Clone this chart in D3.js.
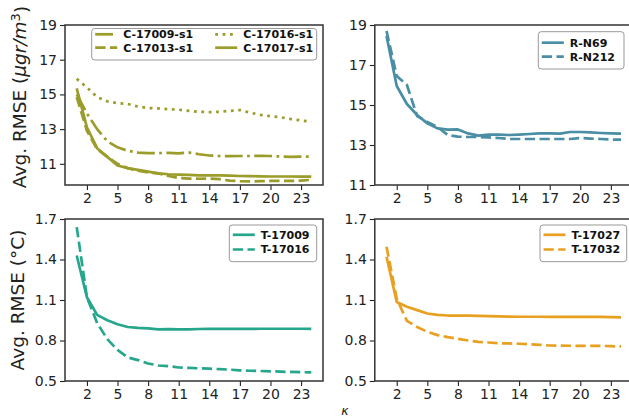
<!DOCTYPE html>
<html>
<head>
<meta charset="utf-8">
<script src="https://cdnjs.cloudflare.com/ajax/libs/d3/7.8.5/d3.min.js"></script>
<style>
  body { margin: 0; background: #fff; }
  svg { display: block; font-family: "DejaVu Sans", sans-serif; }
</style>
</head>
<body>
<div id="chart"></div>
<script>
// ---- data ----
var kappa = d3.range(1, 25);
var xTicks = [2, 5, 8, 11, 14, 17, 20, 23];

var c17009 = [15.0, 13.9, 13.0, 12.3, 11.95, 11.75, 11.65, 11.62, 11.62, 11.63, 11.6, 11.65, 11.55, 11.48, 11.45, 11.44, 11.45, 11.45, 11.46, 11.45, 11.42, 11.4, 11.42, 11.42];
var c17013 = [14.85, 12.9, 11.85, 11.4, 11.0, 10.75, 10.6, 10.5, 10.45, 10.3, 10.18, 10.15, 10.14, 10.15, 10.12, 10.03, 10.0, 9.99, 10.0, 10.02, 10.02, 10.02, 10.03, 10.08];
var c17016 = [15.9, 15.4, 14.85, 14.6, 14.5, 14.45, 14.3, 14.22, 14.19, 14.15, 14.12, 14.05, 14.0, 13.98, 14.0, 14.05, 14.1, 13.95, 13.82, 13.75, 13.68, 13.58, 13.5, 13.42];
var c17017 = [15.35, 13.1, 11.9, 11.4, 10.9, 10.75, 10.65, 10.55, 10.45, 10.4, 10.38, 10.36, 10.34, 10.33, 10.33, 10.32, 10.3, 10.29, 10.28, 10.27, 10.27, 10.27, 10.26, 10.26];

var rN69  = [18.45, 15.95, 15.05, 14.5, 14.08, 13.83, 13.77, 13.78, 13.58, 13.47, 13.52, 13.52, 13.5, 13.52, 13.55, 13.58, 13.58, 13.57, 13.65, 13.65, 13.63, 13.6, 13.58, 13.57];
var rN212 = [18.7, 16.45, 16.0, 14.45, 14.15, 13.9, 13.5, 13.42, 13.4, 13.4, 13.38, 13.35, 13.3, 13.3, 13.3, 13.3, 13.3, 13.3, 13.3, 13.35, 13.32, 13.3, 13.27, 13.27];

var t17009 = [1.43, 1.12, 0.99, 0.95, 0.92, 0.9, 0.893, 0.89, 0.883, 0.884, 0.882, 0.882, 0.885, 0.886, 0.886, 0.886, 0.886, 0.886, 0.887, 0.887, 0.887, 0.887, 0.887, 0.886];
var t17016 = [1.64, 1.12, 0.93, 0.81, 0.73, 0.675, 0.655, 0.63, 0.615, 0.61, 0.6, 0.597, 0.594, 0.591, 0.588, 0.584, 0.579, 0.576, 0.574, 0.572, 0.569, 0.567, 0.565, 0.564];

var t17027 = [1.42, 1.085, 1.05, 1.025, 1.0, 0.99, 0.985, 0.985, 0.984, 0.982, 0.98, 0.978, 0.977, 0.976, 0.976, 0.976, 0.975, 0.975, 0.975, 0.975, 0.976, 0.975, 0.973, 0.972];
var t17032 = [1.495, 1.11, 0.945, 0.9, 0.865, 0.84, 0.825, 0.812, 0.8, 0.79, 0.785, 0.78, 0.778, 0.776, 0.772, 0.768, 0.763, 0.762, 0.761, 0.76, 0.76, 0.76, 0.758, 0.756];

var pmTicks = [11, 13, 15, 17, 19];
var tempTicks = [0.5, 0.8, 1.1, 1.4, 1.7];

// ---- styles ----
var dashes = {
  solid: null,
  dashed: "10.3,4.4",
  dotted: "2.8,4.6",
  dashdot: "17.8,4.4,2.8,4.4"
};

var svg = d3.select("#chart").append("svg")
  .attr("width", 629).attr("height", 418);

var panels = [
  { left: 65, top: 25, width: 258, height: 160, yDomain: [9.78, 19], yTicks: pmTicks, fmt: d3.format("d"),
    color: "#9c9c2a",
    series: [
      { name: "C-17009-s1", values: c17009, dash: "dashdot" },
      { name: "C-17013-s1", values: c17013, dash: "dashed" },
      { name: "C-17016-s1", values: c17016, dash: "dotted" },
      { name: "C-17017-s1", values: c17017, dash: "solid" }
    ],
    legend: { x: 91.7, y: 28.5, w: 225, h: 31.5, cols: 2, colW: 120, rows: [34.3, 47.7] } },
  { left: 374.8, top: 25, width: 258, height: 160, yDomain: [11, 19], yTicks: pmTicks, fmt: d3.format("d"),
    color: "#4a8ea5",
    series: [
      { name: "R-N69", values: rN69, dash: "solid" },
      { name: "R-N212", values: rN212, dash: "dashed" }
    ],
    legend: { x: 538.3, y: 31.7, w: 85.7, h: 37.3, cols: 1, rows: [42.7, 56.7] } },
  { left: 65, top: 219, width: 258, height: 162, yDomain: [0.5, 1.7], yTicks: tempTicks, fmt: d3.format(".1f"),
    color: "#26a68c",
    series: [
      { name: "T-17009", values: t17009, dash: "solid" },
      { name: "T-17016", values: t17016, dash: "dashed" }
    ],
    legend: { x: 229.3, y: 225, w: 87.4, h: 36.7, cols: 1, rows: [234.8, 249.5] } },
  { left: 374.8, top: 219, width: 258, height: 162, yDomain: [0.5, 1.7], yTicks: tempTicks, fmt: d3.format(".1f"),
    color: "#e8a020",
    series: [
      { name: "T-17027", values: t17027, dash: "solid" },
      { name: "T-17032", values: t17032, dash: "dashed" }
    ],
    legend: { x: 540, y: 225, w: 86.7, h: 36.7, cols: 1, rows: [234.8, 249.5] } }
];

panels.forEach(function(p) {
  var x = d3.scaleLinear().domain([-0.15, 25.15]).range([p.left, p.left + p.width]);
  var y = d3.scaleLinear().domain(p.yDomain).range([p.top + p.height, p.top]);
  var g = svg.append("g");

  // lines
  var line = d3.line().x(function(d, i) { return x(kappa[i]); }).y(function(d) { return y(d); });
  p.series.forEach(function(s) {
    g.append("path")
      .attr("d", line(s.values))
      .attr("fill", "none")
      .attr("stroke", p.color)
      .attr("stroke-width", 2.7)
      .attr("stroke-linejoin", "round")
      .attr("stroke-dasharray", dashes[s.dash]);
  });

  // axes
  var xAxis = g.append("g")
    .attr("transform", "translate(0," + (p.top + p.height) + ")")
    .call(d3.axisBottom(x).tickValues(xTicks).tickSizeOuter(0).tickSize(5).tickPadding(3));
  var yAxis = g.append("g")
    .attr("transform", "translate(" + p.left + ",0)")
    .call(d3.axisLeft(y).tickValues(p.yTicks).tickFormat(p.fmt).tickSizeOuter(0).tickSize(5).tickPadding(3));
  [xAxis, yAxis].forEach(function(a) {
    a.select(".domain").remove();
    a.selectAll("line").attr("stroke", "#222").attr("stroke-width", 1.1);
    a.selectAll("text").attr("fill", "#222").style("font-size", "14px")
      .style("font-family", "DejaVu Sans, sans-serif");
  });

  // frame
  g.append("rect")
    .attr("x", p.left).attr("y", p.top)
    .attr("width", p.width).attr("height", p.height)
    .attr("fill", "none").attr("stroke", "#333").attr("stroke-width", 1.5);

  // legend
  var L = p.legend;
  var lg = g.append("g");
  lg.append("rect")
    .attr("x", L.x).attr("y", L.y).attr("width", L.w).attr("height", L.h)
    .attr("rx", 3).attr("fill", "#fff").attr("fill-opacity", 0.85)
    .attr("stroke", "#999").attr("stroke-width", 1);
  p.series.forEach(function(s, i) {
    var col = L.cols === 2 ? Math.floor(i / 2) : 0;
    var row = L.cols === 2 ? i % 2 : i;
    var x0 = L.x + 3.5 + col * (L.colW || 0);
    var yy = L.rows[row];
    lg.append("line")
      .attr("x1", x0).attr("x2", x0 + 22)
      .attr("y1", yy).attr("y2", yy)
      .attr("stroke", p.color).attr("stroke-width", 2.7)
      .attr("stroke-dasharray", dashes[s.dash]);
    lg.append("text")
      .attr("x", x0 + 28).attr("y", yy)
      .attr("dy", "0.36em")
      .style("font-size", "11px").style("font-weight", "bold")
      .attr("fill", "#111")
      .text(s.name);
  });
});

// y labels
var lab1 = svg.append("text")
  .attr("transform", "translate(26,97) rotate(-90)")
  .attr("text-anchor", "middle")
  .style("font-size", "18.5px").attr("fill", "#222");
lab1.append("tspan").text("Avg. RMSE (");
lab1.append("tspan").style("font-style", "italic").text("μgr/m");
lab1.append("tspan").attr("dy", "-0.45em").style("font-size", "13px").text("3");
lab1.append("tspan").attr("dy", "0.45em").text(")");

svg.append("text")
  .attr("transform", "translate(24,300) rotate(-90)")
  .attr("text-anchor", "middle")
  .style("font-size", "18.5px").attr("fill", "#222")
  .text("Avg. RMSE (°C)");

// x label
svg.append("text")
  .attr("x", 345).attr("y", 415)
  .attr("text-anchor", "middle")
  .style("font-size", "12.5px").style("font-style", "italic").attr("fill", "#222")
  .text("κ");
</script>
</body>
</html>
